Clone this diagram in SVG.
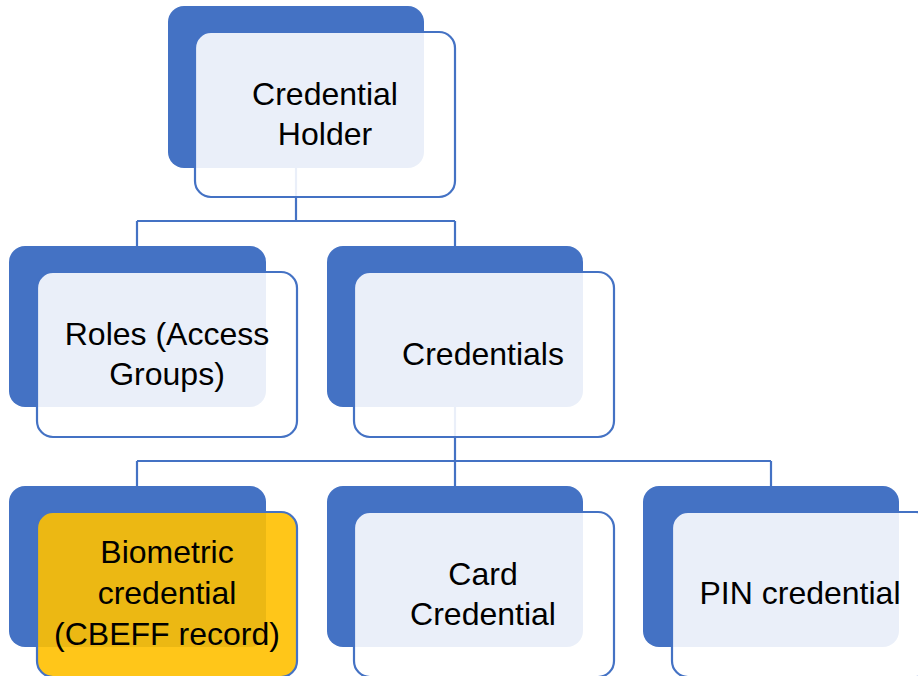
<svg xmlns="http://www.w3.org/2000/svg" width="918" height="676" viewBox="0 0 918 676">
<style>
.bg{fill:#ffffff}
.back{fill:#4472C4}
.front{fill:#ffffff;fill-opacity:0.89;stroke:#4472C4;stroke-width:2.2}
.gold{fill:#FFC000;fill-opacity:0.9;stroke:#4472C4;stroke-width:2.2}
.conn{fill:none;stroke:#4472C4;stroke-width:2.2}
text{font-family:"Liberation Sans",Arial,sans-serif;font-size:32px;fill:#000000;text-anchor:middle}
</style>
<rect class="bg" x="0" y="0" width="918" height="676"/>
<g id="connectors">
<path class="conn" d="M296 150 V221 M137 221 H455 M137 221 V246 M455 221 V246"/>
<path class="conn" d="M455 390 V461 M137 461 H771 M137 461 V486 M455 461 V486 M771 461 V486"/>
</g>
<g id="credential-holder">
<rect class="back" x="168" y="6" width="256" height="162" rx="16"/>
<rect class="front" x="195" y="32" width="260" height="165" rx="16"/>
<text x="325" y="105">Credential</text>
<text x="325" y="145">Holder</text>
</g>
<g id="roles">
<rect class="back" x="9" y="246" width="257" height="161" rx="16"/>
<rect class="front" x="37" y="272" width="260" height="165" rx="16"/>
<text x="167" y="345">Roles (Access</text>
<text x="167" y="385">Groups)</text>
</g>
<g id="credentials">
<rect class="back" x="327" y="246" width="256" height="161" rx="16"/>
<rect class="front" x="354" y="272" width="260" height="165" rx="16"/>
<text x="483" y="365">Credentials</text>
</g>
<g id="biometric-credential">
<rect class="back" x="9" y="486" width="257" height="161" rx="16"/>
<rect class="gold" x="37" y="512" width="260" height="165" rx="16"/>
<text x="167" y="563">Biometric</text>
<text x="167" y="604">credential</text>
<text x="167" y="645">(CBEFF record)</text>
</g>
<g id="card-credential">
<rect class="back" x="327" y="486" width="256" height="161" rx="16"/>
<rect class="front" x="354" y="512" width="260" height="165" rx="16"/>
<text x="483" y="585">Card</text>
<text x="483" y="625">Credential</text>
</g>
<g id="pin-credential">
<rect class="back" x="643" y="486" width="256" height="161" rx="16"/>
<rect class="front" x="672" y="512" width="260" height="165" rx="16"/>
<text x="800" y="604">PIN credential</text>
</g>
</svg>
